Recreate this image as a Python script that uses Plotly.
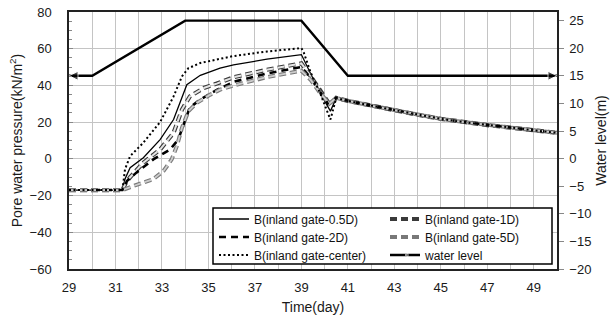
import plotly.graph_objects as go

# ---------------- data ----------------
decay_days = [40.5, 41, 42, 43, 44, 45, 46, 47, 48, 49, 50]
decay_vals = [33.2, 31.6, 29.0, 26.5, 24.0, 21.8, 20.0, 18.4, 17.0, 15.6, 14.2]

d05_days = [29, 31.3, 31.41, 31.63, 32.2, 32.92, 33.5, 33.86, 34.07, 34.65, 35.5, 36.08, 37.52, 39.0, 39.4, 39.8, 40.25]
d05_vals = [-17, -17, -11, -4.8, 0.6, 10.5, 21.4, 34, 40.4, 45.5, 49.4, 51.2, 54.3, 56.8, 46, 36, 26]

d1_days = [29, 31.3, 31.45, 31.63, 32.2, 32.92, 33.5, 33.86, 34.2, 34.8, 35.36, 36.1, 37.5, 39.0, 39.4, 39.8, 40.2, 40.35]
d1_vals = [-17, -17, -13, -10, -2.1, 5.1, 14.2, 26.8, 34, 38.6, 41, 44.5, 48.5, 52, 45, 37, 30, 31]

d2_days = [29, 31.3, 31.5, 31.9, 32.63, 33.35, 33.7, 34.0, 34.2, 34.65, 35.36, 36.1, 37.5, 39.0, 39.4, 39.8, 40.2]
d2_vals = [-17, -17, -12, -7.5, -0.3, 5.1, 10.5, 21.4, 28, 32.3, 37.6, 42, 46.5, 50, 44, 36.5, 29]

d5_days = [29, 31.3, 31.77, 32.63, 33.07, 33.42, 33.64, 33.86, 34.14, 34.5, 35.08, 35.5, 36.1, 37.5, 39.0, 39.4, 39.8, 40.2]
d5_vals = [-17, -17, -14.8, -11, -6.6, -0.3, 6.9, 16.9, 26, 30.5, 35, 37.7, 40, 44.5, 48, 43, 36, 30]

dc_days = [29, 31.3, 31.41, 31.63, 32.2, 32.92, 33.5, 33.86, 34.14, 34.65, 35.5, 36.08, 37.52, 39.0, 39.1, 39.4, 39.8, 40.25]
dc_vals = [-17, -17, -5.7, 1.5, 8.8, 20.0, 34, 44.9, 49.4, 52.2, 54.5, 56, 58.5, 60.3, 58, 47, 36, 21.4]

wl_days = [29, 30, 34, 39, 41, 50]
wl_vals = [15, 15, 25, 25, 15, 15]

names = ["B(inland gate-0.5D)", "B(inland gate-1D)", "B(inland gate-2D)",
         "B(inland gate-5D)", "B(inland gate-center)", "water level"]

x_ticks = list(range(29, 51, 2))
y_ticks = list(range(-60, 81, 20))
y2_ticks = list(range(-20, 26, 5))

FONT = "Liberation Sans"

# plot-area geometry in px
L, R, T, B = 69, 557, 12, 269
PW, PH = R - L, B - T

def px_x(p):
    return (p - L) / PW

def px_y(p):
    return (B - p) / PH

def full(days, vals):
    return days + decay_days, vals + decay_vals

fig = go.Figure()

x, y = full(d05_days, d05_vals)
fig.add_trace(go.Scatter(x=x, y=y, mode="lines", name=names[0], legend="legend",
                         line=dict(color="black", width=1.3)))

x, y = full(d1_days, d1_vals)
fig.add_trace(go.Scatter(x=x, y=y, mode="lines", name=names[1], legend="legend2",
                         line=dict(color="#3a3a3a", width=4.2, dash="7px,4px")))
fig.add_trace(go.Scatter(x=x, y=y, mode="lines", showlegend=False, hoverinfo="skip",
                         line=dict(color="#e4e4e4", width=2.0, dash="7px,4px")))

x, y = full(d2_days, d2_vals)
fig.add_trace(go.Scatter(x=x, y=y, mode="lines", name=names[2], legend="legend3",
                         line=dict(color="black", width=2.6, dash="7px,5px")))

x, y = full(d5_days, d5_vals)
fig.add_trace(go.Scatter(x=x, y=y, mode="lines", name=names[3], legend="legend4",
                         line=dict(color="#787878", width=4.0, dash="7px,4px")))
fig.add_trace(go.Scatter(x=x, y=y, mode="lines", showlegend=False, hoverinfo="skip",
                         line=dict(color="#cdcdcd", width=1.8, dash="7px,4px")))

x, y = full(dc_days, dc_vals)
fig.add_trace(go.Scatter(x=x, y=y, mode="lines", name=names[4], legend="legend5",
                         line=dict(color="black", width=2, dash="2px,2.5px")))

n = len(wl_days)
fig.add_trace(go.Scatter(
    x=wl_days, y=wl_vals, yaxis="y2", mode="lines+markers", name=names[5], legend="legend6",
    line=dict(color="black", width=2.4),
    marker=dict(symbol=["arrow-left"] + ["circle"] * (n - 2) + ["arrow-right"],
                size=[9] + [0] * (n - 2) + [9], color="black"),
))

grid = "#c4c4c4"
leg_common = dict(xanchor="left", yanchor="middle", bgcolor="rgba(0,0,0,0)", borderwidth=0,
                  font=dict(size=12, color="#111"))
rows = [219, 237, 255]
col_x = [214, 385]

fig.update_layout(
    width=616, height=323,
    margin=dict(l=L, r=616 - R, t=T, b=323 - B, autoexpand=False),
    paper_bgcolor="white", plot_bgcolor="white",
    font=dict(family=FONT, size=13, color="#1a1a1a"),
    xaxis=dict(range=[29, 50], tickvals=x_ticks, showgrid=True, gridcolor=grid, gridwidth=1,
               minor=dict(dtick=1, tick0=29, showgrid=True, gridcolor=grid, gridwidth=1),
               showline=True, linecolor="#222", linewidth=1.5, mirror=True,
               ticks="", ticklabelstandoff=6, zeroline=False, automargin=False,
               title=dict(text="Time(day)", font=dict(size=14), standoff=8)),
    yaxis=dict(range=[-60, 80], tickvals=y_ticks, showgrid=True, gridcolor=grid, gridwidth=1,
               showline=True, linecolor="#222", linewidth=1.5, zeroline=False, automargin=False,
               ticks="inside", ticklen=4, tickcolor="#888",
               minor=dict(dtick=5, ticks="inside", ticklen=3, tickcolor="#888", showgrid=False),
               ticklabelstandoff=13,
               title=dict(text="Pore water pressure(kN/m<sup>2</sup>)", font=dict(size=14), standoff=4)),
    yaxis2=dict(range=[-20, 26.56], tickvals=y2_ticks, overlaying="y", side="right",
                showgrid=False, zeroline=False, showline=True, linecolor="#222", linewidth=1.5,
                ticks="outside", ticklen=5, tickcolor="#888", automargin=False,
                ticklabelstandoff=3,
                title=dict(text="Water level(m)", font=dict(size=14), standoff=6)),
    legend=dict(x=px_x(col_x[0]), y=px_y(rows[0]), **leg_common),
    legend2=dict(x=px_x(col_x[1]), y=px_y(rows[0]), **leg_common),
    legend3=dict(x=px_x(col_x[0]), y=px_y(rows[1]), **leg_common),
    legend4=dict(x=px_x(col_x[1]), y=px_y(rows[1]), **leg_common),
    legend5=dict(x=px_x(col_x[0]), y=px_y(rows[2]), **leg_common),
    legend6=dict(x=px_x(col_x[1]), y=px_y(rows[2]), **leg_common),
    shapes=[dict(type="rect", xref="paper", yref="paper",
                 x0=px_x(213), x1=px_x(552), y0=px_y(264), y1=px_y(208),
                 line=dict(color="black", width=1.5), fillcolor="white", layer="above")],
)

fig.write_html("out.html", config={"displayModeBar": False},
               post_script="document.body.style.margin='0';")
